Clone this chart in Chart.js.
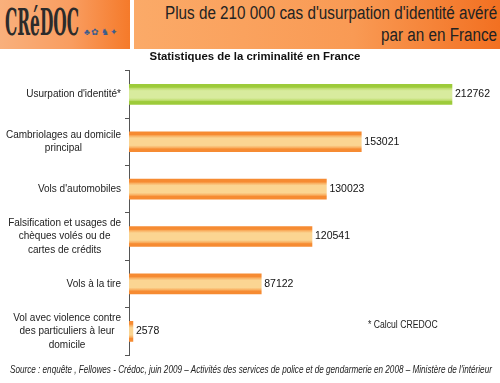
<!DOCTYPE html>
<html>
<head>
<meta charset="utf-8">
<script src="https://cdn.jsdelivr.net/npm/chart.js@4"></script>
<style>
  html,body{margin:0;padding:0;background:#fff;}
  #wrap{position:relative;width:500px;height:383px;overflow:hidden;font-family:"Liberation Sans",Arial,sans-serif;}
  #c{position:absolute;left:0;top:0;}
  #logo{position:absolute;left:0;top:0;width:130px;height:49px;
    background:linear-gradient(90deg,#f9b07c 0%,#f99d60 55%,#f57a2a 100%);}
  #logoTxt{position:absolute;left:5px;top:3px;font-family:"DejaVu Serif",serif;font-weight:bold;
    font-size:20px;line-height:20px;color:#2b2b2b;white-space:nowrap;transform-origin:0 0;}
  #logoDeco{position:absolute;left:84px;top:27px;font-size:9px;color:#3d5d8c;white-space:nowrap;letter-spacing:-0.5px;}
  #head{position:absolute;left:134px;top:0;width:366px;height:49px;
    background:linear-gradient(90deg,#fbaa68 0%,#f99a54 60%,#f27021 100%);}
  .hl{position:absolute;right:3px;font-size:18px;line-height:20px;color:#222;white-space:nowrap;transform-origin:100% 0;}
  #note{position:absolute;left:368px;top:319px;font-size:10px;color:#222;white-space:nowrap;transform-origin:0 0;}
  #src{position:absolute;left:10px;top:364px;font-size:10px;font-style:italic;color:#222;white-space:nowrap;transform-origin:0 0;}
</style>
</head>
<body>
<div id="wrap">
  <canvas id="c" width="500" height="383"></canvas>
  <div id="logo"><span id="logoTxt">CRéDOC</span><span id="logoDeco">♣ ✿ ♞ ✦</span></div>
  <div id="head">
    <div class="hl" id="h1" style="top:3px">Plus de 210 000 cas d'usurpation d'identité avéré</div>
    <div class="hl" id="h2" style="top:25px">par an en France</div>
  </div>
  <div id="note">* Calcul CREDOC</div>
  <div id="src">Source : enquête , Fellowes - Crédoc, juin 2009 – Activités des services de police et de gendarmerie en 2008 – Ministère de l'intérieur</div>
</div>
<script>
function fitW(id, w, sy) {
  const el = document.getElementById(id);
  const sx = w / el.scrollWidth;
  el.style.transform = 'scale(' + sx + ',' + (sy || 1) + ')';
  return sx;
}
const sxh = fitW('h1', 332);
document.getElementById('h2').style.transform = 'scaleX(' + sxh + ')';
fitW('logoTxt', 74, 1.9);
fitW('src', 482);
fitW('note', 70);

const categories = [
  ["Usurpation d'identité*"],
  ["Cambriolages au domicile", "principal"],
  ["Vols d'automobiles"],
  ["Falsification et usages de", "chèques volés ou de", "cartes de crédits"],
  ["Vols à la tire"],
  ["Vol avec violence contre", "des particuliers à leur", "domicile"]
];
const values = [212762, 153021, 130023, 120541, 87122, 2578];
const highlight = [true, false, false, false, false, false];
const chartTitle = "Statistiques de la criminalité en France";

function barGradient(context, dark, mid, light) {
  const chart = context.chart;
  const y = chart.scales && chart.scales.y;
  if (!y || !chart.chartArea) return light;
  const cy = y.getPixelForValue(context.dataIndex);
  const g = chart.ctx.createLinearGradient(0, cy - 10, 0, cy + 10);
  g.addColorStop(0, dark);
  g.addColorStop(0.14, dark);
  g.addColorStop(0.2, mid);
  g.addColorStop(0.32, light);
  g.addColorStop(0.68, light);
  g.addColorStop(0.8, mid);
  g.addColorStop(0.86, dark);
  g.addColorStop(1, dark);
  return g;
}

const labelPlugin = {
  id: 'customLabels',
  afterDraw(chart) {
    const ctx = chart.ctx;
    const y = chart.scales.y;
    ctx.save();
    ctx.font = '10px "Liberation Sans", Arial, sans-serif';
    ctx.fillStyle = '#222';
    ctx.textBaseline = 'middle';
    const right = 121, lh = 13.5;
    categories.forEach((lines, i) => {
      const cy = y.getPixelForValue(i);
      const widths = lines.map(l => ctx.measureText(l).width);
      const bw = Math.max(...widths);
      const cx = right - bw / 2;
      ctx.textAlign = 'center';
      lines.forEach((l, k) => {
        ctx.fillText(l, cx, cy + (k - (lines.length - 1) / 2) * lh);
      });
    });
    ctx.font = '10.5px "Liberation Sans", Arial, sans-serif';
    ctx.fillStyle = '#111';
    ctx.textAlign = 'left';
    const meta = chart.getDatasetMeta(0);
    meta.data.forEach((bar, i) => {
      ctx.fillText(String(values[i]), bar.x + 3, bar.y);
    });
    ctx.restore();
  }
};

new Chart(document.getElementById('c'), {
  type: 'bar',
  data: {
    labels: categories,
    datasets: [{
      data: values,
      backgroundColor: ctx => highlight[ctx.dataIndex]
        ? barGradient(ctx, '#9dcb3a', '#bedd6e', '#d8eb9e')
        : barGradient(ctx, '#f68b32', '#f9ad5e', '#fbd592'),
      borderWidth: 0,
      barThickness: 20
    }]
  },
  options: {
    indexAxis: 'y',
    responsive: false,
    animation: false,
    layout: { padding: { top: 50, bottom: 28, right: 0, left: 10 } },
    plugins: {
      legend: { display: false },
      tooltip: { enabled: false },
      title: {
        display: true,
        text: chartTitle,
        color: '#111',
        font: { family: '"Liberation Sans", Arial, sans-serif', size: 11.4, weight: 'bold' },
        padding: { top: 0, bottom: 7 }
      }
    },
    scales: {
      x: { display: false, min: 0, max: 244400 },
      y: {
        offset: true,
        afterFit(scale) { scale.width = 119; },
        border: { display: true, color: '#555', width: 1 },
        grid: { display: true, drawOnChartArea: false, offset: true, tickLength: 4, color: '#555' },
        ticks: { display: false }
      }
    }
  },
  plugins: [labelPlugin]
});
</script>
</body>
</html>
